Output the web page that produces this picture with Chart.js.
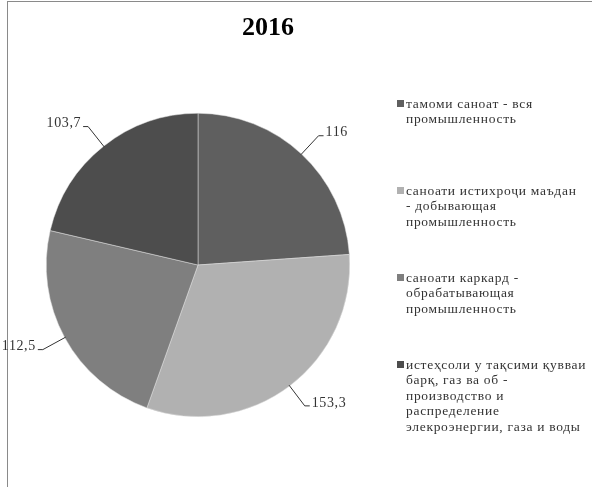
<!DOCTYPE html>
<html>
<head>
<meta charset="utf-8">
<script src="https://cdn.jsdelivr.net/npm/chart.js@4"></script>
<style>
	body { margin: 0; background: #fff; }
	#wrap { position: relative; width: 592px; height: 487px; }
	#frame { position: absolute; left: 7px; top: 1px; right: -2px; bottom: -2px; border-left: 1px solid #8a8a8a; border-top: 1px solid #8a8a8a; }
	#mycanvas { position: absolute; left: 0; top: 0; }
</style>
</head>
<body>
<div id="wrap">
	<div id="frame"></div>
	<canvas id="mycanvas" width="592" height="487"></canvas>
</div>
<script>
var titleText = "2016";

// legend lines, as wrapped in the picture
var labelLines = [
	["тамоми саноат - вся", "промышленность"],
	["саноати истихроҷи маъдан", "- добывающая", "промышленность"],
	["саноати каркард -", "обрабатывающая", "промышленность"],
	["истеҳсоли у тақсими қувваи", "барқ, газ ва об -", "производство и", "распределение", "элекроэнергии, газа и воды"]
];
var values = [116, 153.3, 112.5, 103.7];
var colors = ["#5f5f5f", "#b1b1b1", "#7f7f7f", "#4d4d4d"];

var labels = [];
for (var i in labelLines) {
	labels.push(labelLines[i].join(" "));
}

function fmt(v) {
	return String(v).replace(".", ",");
}

// title, drawn off-centre like the original
var titlePlugin = {
	id: "titleText",
	afterDraw: function(chart) {
		var ctx = chart.ctx;
		ctx.save();
		ctx.font = "bold 26px 'Liberation Serif'";
		ctx.fillStyle = "#000";
		ctx.textAlign = "center";
		ctx.textBaseline = "middle";
		ctx.fillText(titleText, 268, 28);
		ctx.restore();
	}
};

// value labels with leader lines
var valueLabels = {
	id: "valueLabels",
	afterDatasetsDraw: function(chart) {
		var ctx = chart.ctx;
		var meta = chart.getDatasetMeta(0);
		ctx.save();
		ctx.font = "14px 'Liberation Serif'";
		ctx.letterSpacing = "0.6px";
		ctx.fillStyle = "#333";
		ctx.strokeStyle = "#333";
		ctx.lineWidth = 1;
		ctx.textBaseline = "middle";
		meta.data.forEach(function(arc, i) {
			var p = arc.getProps(["x", "y", "startAngle", "endAngle", "outerRadius"], true);
			var mid = (p.startAngle + p.endAngle) / 2;
			var cos = Math.cos(mid), sin = Math.sin(mid);
			var r1 = p.outerRadius - 1;
			var r2 = p.outerRadius + 25;
			var x1 = p.x + r1 * cos, y1 = p.y + r1 * sin;
			var x2 = p.x + r2 * cos, y2 = p.y + r2 * sin;
			var dir = cos >= 0 ? 1 : -1;
			var x3 = x2 + dir * 5;
			ctx.beginPath();
			ctx.moveTo(x1, y1);
			ctx.lineTo(x2, y2);
			ctx.lineTo(x3, y2);
			ctx.stroke();
			ctx.textAlign = dir > 0 ? "left" : "right";
			ctx.fillText(fmt(values[i]), x3 + dir * 2, y2 - 3);
		});
		ctx.restore();
	}
};

// legend on the right with wrapped text
var sideLegend = {
	id: "sideLegend",
	afterDraw: function(chart) {
		var ctx = chart.ctx;
		ctx.save();
		ctx.font = "13.5px 'Liberation Serif'";
		ctx.letterSpacing = "0.7px";
		ctx.textBaseline = "middle";
		ctx.textAlign = "left";
		for (var i = 0; i < labelLines.length; i++) {
			var y = 104 + i * 87;
			ctx.fillStyle = colors[i];
			ctx.fillRect(397, y - 4, 7, 7);
			ctx.fillStyle = "#333";
			for (var j = 0; j < labelLines[i].length; j++) {
				ctx.fillText(labelLines[i][j], 406, y + j * 15.5);
			}
		}
		ctx.restore();
	}
};

var ctx = document.getElementById("mycanvas");
var PieGraph = new Chart(ctx, {
	type: "pie",
	data: {
		labels: labels,
		datasets: [{
			data: values,
			backgroundColor: colors,
			borderColor: "#e0e0e0",
			borderWidth: 0.5
		}]
	},
	options: {
		responsive: false,
		animation: false,
		layout: {
			padding: { left: 46, right: 242, top: 113, bottom: 70 }
		},
		plugins: {
			legend: { display: false },
			tooltip: { enabled: false }
		}
	},
	plugins: [titlePlugin, valueLabels, sideLegend]
});
</script>
</body>
</html>
